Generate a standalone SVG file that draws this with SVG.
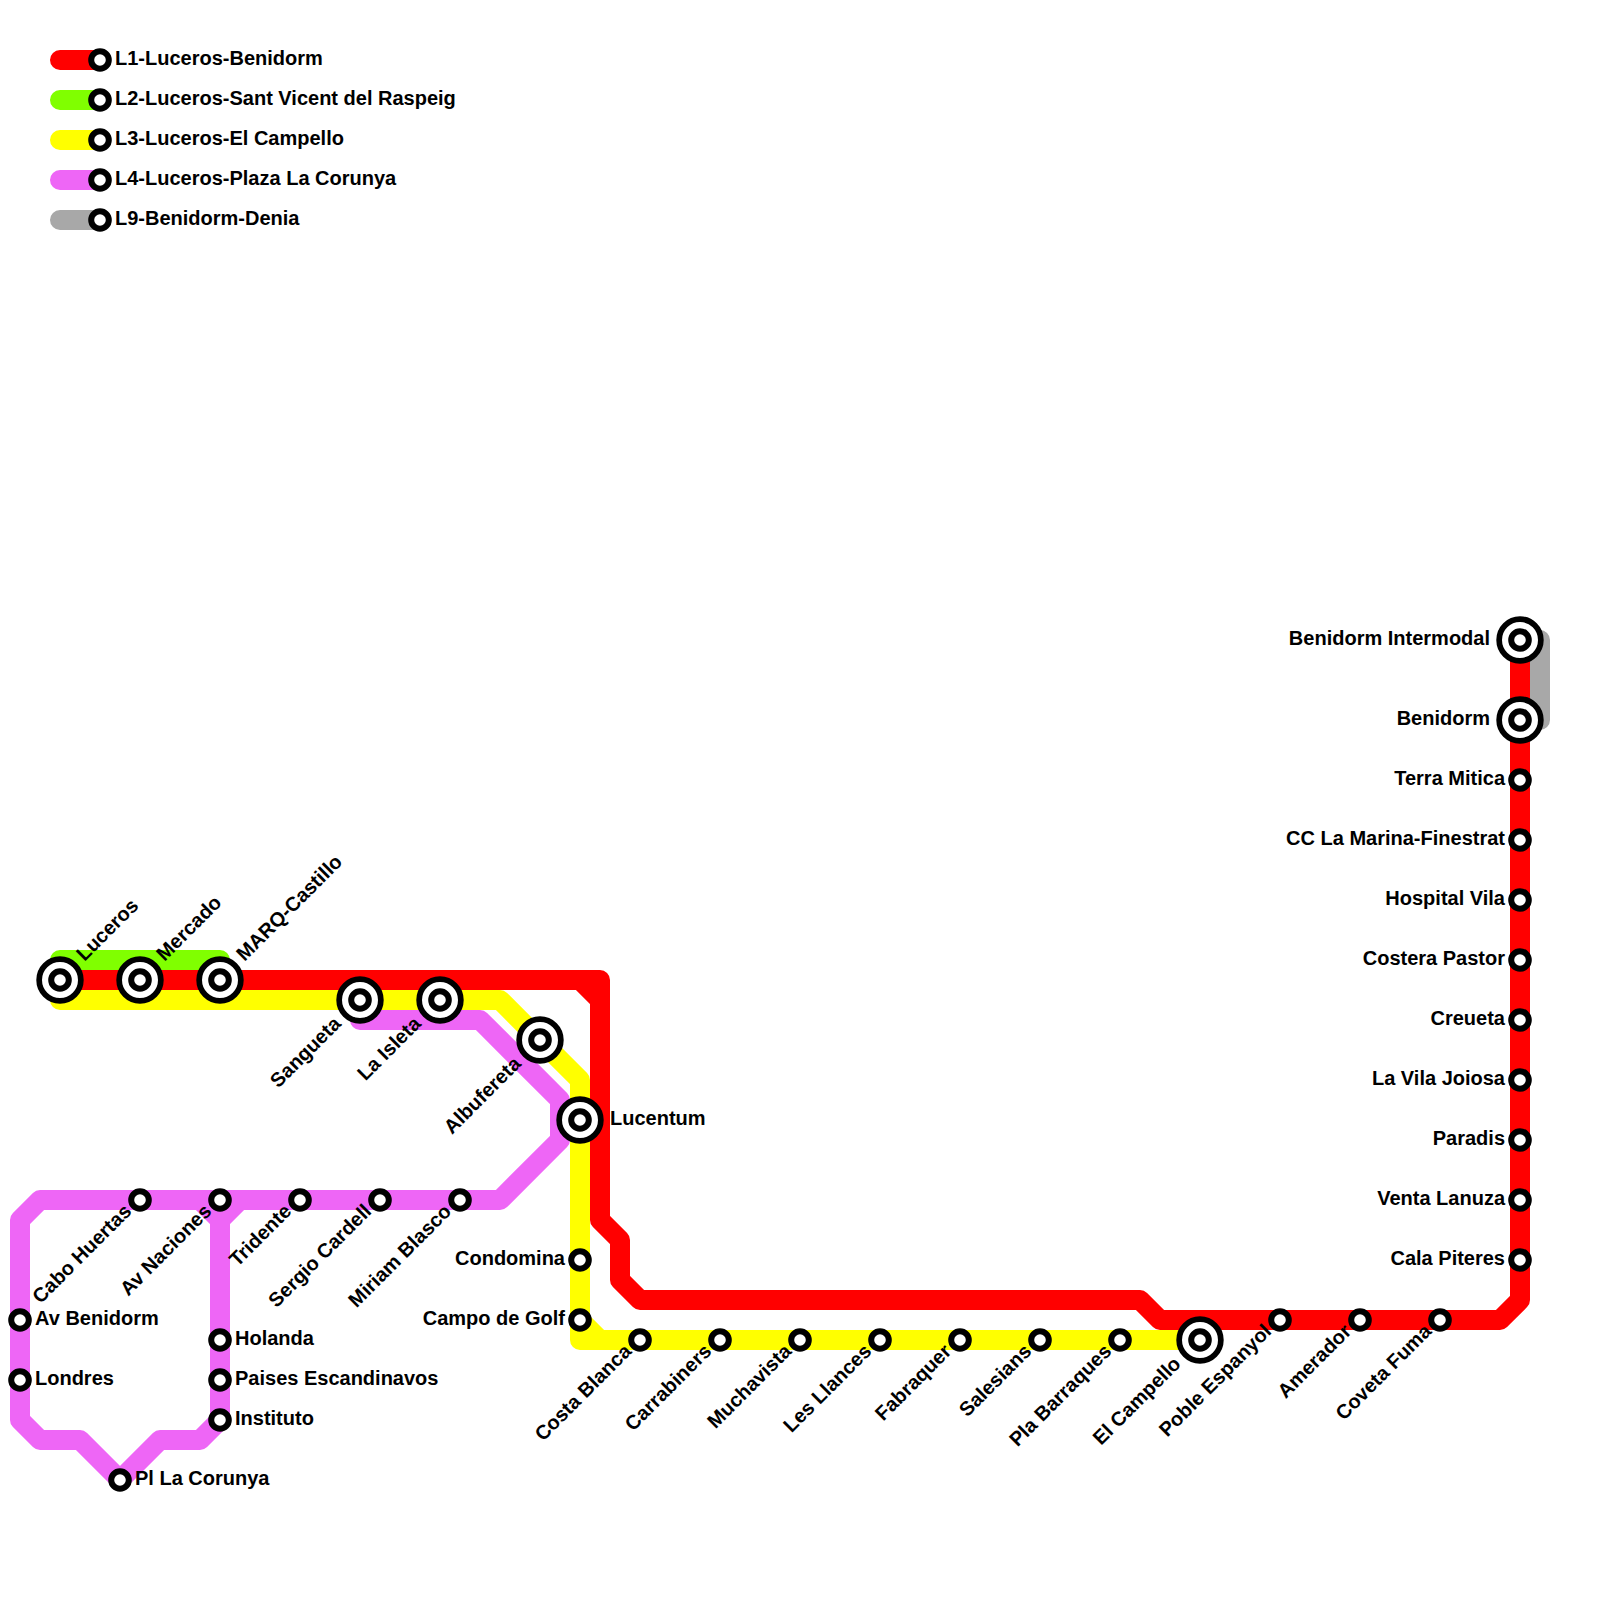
<svg xmlns="http://www.w3.org/2000/svg" width="1600" height="1600" viewBox="0 0 1600 1600">
<style>
.l{fill:none;stroke-width:20;stroke-linejoin:round;stroke-linecap:round}
.r{stroke:#ff0000}.g{stroke:#80ff00}.y{stroke:#ffff00}.p{stroke:#ee66f6}.k{stroke:#a8a8a8}
.o{fill:#fff;stroke:#000;stroke-width:5.7}
.s{fill:#fff;stroke:#000;stroke-width:6}
text{font-family:"Liberation Sans",Arial,sans-serif;font-weight:bold;font-size:20px;fill:#000}
.e{text-anchor:end}
</style>
<g id="connectors">
<path class="l k" d="M60 220H100M1520 640H1540V720H1520"/>
<path class="l g" d="M60 100H100M60 960H220"/>
<path class="l p" d="M60 180H100M360 1020H480L560 1100V1140L500 1200H40L20 1220V1420L40 1440H80L120 1480L160 1440H200L220 1420V1220L240 1200M200 1200L220 1220"/>
<path class="l y" d="M60 140H100M60 1000H500L580 1080V1340H1200M580 1320L600 1340"/>
<path class="l r" d="M60 60H100M60 980H600V1220L620 1240V1280L640 1300H1140L1160 1320H1500L1520 1300V640M580 980L600 1000"/>
</g>
<g id="legend-l1"><circle class="s" cx="100" cy="60" r="8.8"/><text x="115" y="65">L1-Luceros-Benidorm</text></g>
<g id="legend-l2"><circle class="s" cx="100" cy="100" r="8.8"/><text x="115" y="105">L2-Luceros-Sant Vicent del Raspeig</text></g>
<g id="legend-l3"><circle class="s" cx="100" cy="140" r="8.8"/><text x="115" y="145">L3-Luceros-El Campello</text></g>
<g id="legend-l4"><circle class="s" cx="100" cy="180" r="8.8"/><text x="115" y="185">L4-Luceros-Plaza La Corunya</text></g>
<g id="legend-l9"><circle class="s" cx="100" cy="220" r="8.8"/><text x="115" y="225">L9-Benidorm-Denia</text></g>

<g id="luceros"><circle class="o" cx="60" cy="980" r="20.85"/><circle class="s" cx="60" cy="980" r="8.8"/><text transform="translate(84.5 962) rotate(-45)">Luceros</text></g>
<g id="mercado"><circle class="o" cx="140" cy="980" r="20.85"/><circle class="s" cx="140" cy="980" r="8.8"/><text transform="translate(164.5 962) rotate(-45)">Mercado</text></g>
<g id="marq"><circle class="o" cx="220" cy="980" r="20.85"/><circle class="s" cx="220" cy="980" r="8.8"/><text transform="translate(244.5 962) rotate(-45)">MARQ-Castillo</text></g>
<g id="sangueta"><circle class="o" cx="360" cy="1000" r="20.85"/><circle class="s" cx="360" cy="1000" r="8.8"/><text class="e" transform="translate(342 1025) rotate(-45)">Sangueta</text></g>
<g id="la-isleta"><circle class="o" cx="440" cy="1000" r="20.85"/><circle class="s" cx="440" cy="1000" r="8.8"/><text class="e" transform="translate(422 1025) rotate(-45)">La Isleta</text></g>
<g id="albufereta"><circle class="o" cx="540" cy="1040" r="20.85"/><circle class="s" cx="540" cy="1040" r="8.8"/><text class="e" transform="translate(522 1065) rotate(-45)">Albufereta</text></g>
<g id="lucentum"><circle class="o" cx="580" cy="1120" r="20.85"/><circle class="s" cx="580" cy="1120" r="8.8"/><text x="610" y="1125">Lucentum</text></g>

<g id="cabo-huertas"><circle class="s" cx="140" cy="1200" r="8.8"/><text class="e" transform="translate(132.5 1212.5) rotate(-45)">Cabo Huertas</text></g>
<g id="av-naciones"><circle class="s" cx="220" cy="1200" r="8.8"/><text class="e" transform="translate(212.5 1212.5) rotate(-45)">Av Naciones</text></g>
<g id="tridente"><circle class="s" cx="300" cy="1200" r="8.8"/><text class="e" transform="translate(292.5 1212.5) rotate(-45)">Tridente</text></g>
<g id="sergio-cardell"><circle class="s" cx="380" cy="1200" r="8.8"/><text class="e" transform="translate(372.5 1212.5) rotate(-45)">Sergio Cardell</text></g>
<g id="miriam-blasco"><circle class="s" cx="460" cy="1200" r="8.8"/><text class="e" transform="translate(452.5 1212.5) rotate(-45)">Miriam Blasco</text></g>
<g id="av-benidorm"><circle class="s" cx="20" cy="1320" r="8.8"/><text x="35" y="1325">Av Benidorm</text></g>
<g id="londres"><circle class="s" cx="20" cy="1380" r="8.8"/><text x="35" y="1385">Londres</text></g>
<g id="holanda"><circle class="s" cx="220" cy="1340" r="8.8"/><text x="235" y="1345">Holanda</text></g>
<g id="paises-escandinavos"><circle class="s" cx="220" cy="1380" r="8.8"/><text x="235" y="1385">Paises Escandinavos</text></g>
<g id="instituto"><circle class="s" cx="220" cy="1420" r="8.8"/><text x="235" y="1425">Instituto</text></g>
<g id="pl-la-corunya"><circle class="s" cx="120" cy="1480" r="8.8"/><text x="135" y="1485">Pl La Corunya</text></g>

<g id="condomina"><circle class="s" cx="580" cy="1260" r="8.8"/><text class="e" x="565" y="1265">Condomina</text></g>
<g id="campo-de-golf"><circle class="s" cx="580" cy="1320" r="8.8"/><text class="e" x="565" y="1325">Campo de Golf</text></g>
<g id="costa-blanca"><circle class="s" cx="640" cy="1340" r="8.8"/><text class="e" transform="translate(632.5 1352.5) rotate(-45)">Costa Blanca</text></g>
<g id="carrabiners"><circle class="s" cx="720" cy="1340" r="8.8"/><text class="e" transform="translate(712.5 1352.5) rotate(-45)">Carrabiners</text></g>
<g id="muchavista"><circle class="s" cx="800" cy="1340" r="8.8"/><text class="e" transform="translate(792.5 1352.5) rotate(-45)">Muchavista</text></g>
<g id="les-llances"><circle class="s" cx="880" cy="1340" r="8.8"/><text class="e" transform="translate(872.5 1352.5) rotate(-45)">Les Llances</text></g>
<g id="fabraquer"><circle class="s" cx="960" cy="1340" r="8.8"/><text class="e" transform="translate(952.5 1352.5) rotate(-45)">Fabraquer</text></g>
<g id="salesians"><circle class="s" cx="1040" cy="1340" r="8.8"/><text class="e" transform="translate(1032.5 1352.5) rotate(-45)">Salesians</text></g>
<g id="pla-barraques"><circle class="s" cx="1120" cy="1340" r="8.8"/><text class="e" transform="translate(1112.5 1352.5) rotate(-45)">Pla Barraques</text></g>
<g id="el-campello"><circle class="o" cx="1200" cy="1340" r="20.85"/><circle class="s" cx="1200" cy="1340" r="8.8"/><text class="e" transform="translate(1182 1365) rotate(-45)">El Campello</text></g>
<g id="poble-espanyol"><circle class="s" cx="1280" cy="1320" r="8.8"/><text class="e" transform="translate(1272.5 1332.5) rotate(-45)">Poble Espanyol</text></g>
<g id="amerador"><circle class="s" cx="1360" cy="1320" r="8.8"/><text class="e" transform="translate(1352.5 1332.5) rotate(-45)">Amerador</text></g>
<g id="coveta-fuma"><circle class="s" cx="1440" cy="1320" r="8.8"/><text class="e" transform="translate(1432.5 1332.5) rotate(-45)">Coveta Fuma</text></g>

<g id="benidorm-intermodal"><circle class="o" cx="1520" cy="640" r="20.85"/><circle class="s" cx="1520" cy="640" r="8.8"/><text class="e" x="1490" y="645">Benidorm Intermodal</text></g>
<g id="benidorm"><circle class="o" cx="1520" cy="720" r="20.85"/><circle class="s" cx="1520" cy="720" r="8.8"/><text class="e" x="1490" y="725">Benidorm</text></g>
<g id="terra-mitica"><circle class="s" cx="1520" cy="780" r="8.8"/><text class="e" x="1505" y="785">Terra Mitica</text></g>
<g id="cc-la-marina"><circle class="s" cx="1520" cy="840" r="8.8"/><text class="e" x="1505" y="845">CC La Marina-Finestrat</text></g>
<g id="hospital-vila"><circle class="s" cx="1520" cy="900" r="8.8"/><text class="e" x="1505" y="905">Hospital Vila</text></g>
<g id="costera-pastor"><circle class="s" cx="1520" cy="960" r="8.8"/><text class="e" x="1505" y="965">Costera Pastor</text></g>
<g id="creueta"><circle class="s" cx="1520" cy="1020" r="8.8"/><text class="e" x="1505" y="1025">Creueta</text></g>
<g id="la-vila-joiosa"><circle class="s" cx="1520" cy="1080" r="8.8"/><text class="e" x="1505" y="1085">La Vila Joiosa</text></g>
<g id="paradis"><circle class="s" cx="1520" cy="1140" r="8.8"/><text class="e" x="1505" y="1145">Paradis</text></g>
<g id="venta-lanuza"><circle class="s" cx="1520" cy="1200" r="8.8"/><text class="e" x="1505" y="1205">Venta Lanuza</text></g>
<g id="cala-piteres"><circle class="s" cx="1520" cy="1260" r="8.8"/><text class="e" x="1505" y="1265">Cala Piteres</text></g>
</svg>
